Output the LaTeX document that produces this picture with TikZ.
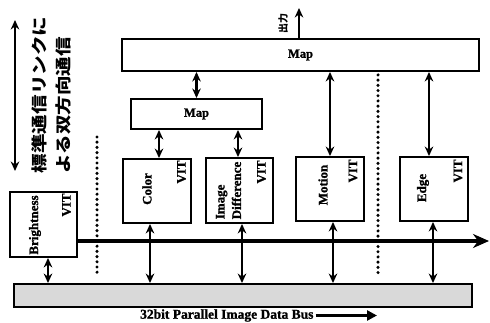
\documentclass[tikz,border=0pt]{standalone}
\usepackage{fontspec}
\setmainfont{Liberation Serif}[BoldFeatures={FakeBold=1.2}]
\newfontfamily\jpfont{Noto Sans CJK JP}
\usetikzlibrary{arrows.meta,calc}

\tikzset{
  box/.style={draw, line width=1.9pt, inner sep=0pt},
  lbl/.style={font=\fontsize{13}{16.5}\selectfont\bfseries, rotate=90, inner sep=0pt},
  link/.style={line width=2.3pt, {Stealth[length=9.5pt,width=8.5pt]}-{Stealth[length=9.5pt,width=8.5pt]}},
  sepline/.style={line width=3.4pt, line cap=round, dash pattern=on 0pt off 5.2pt},
}

\begin{document}
\begin{tikzpicture}[x=1pt,y=-1pt]
  \useasboundingbox (0,0) rectangle (490,323);

  % map units
  \node[box, minimum width=357pt, minimum height=32pt, font=\fontsize{12.5}{14}\selectfont\bfseries] (mapt) at (300.5,55) {Map};
  \node[box, minimum width=131pt, minimum height=30pt, font=\fontsize{12.5}{14}\selectfont\bfseries] (maps) at (196.5,114) {Map};

  % VIT boards
  \node[box, minimum width=67pt, minimum height=65pt] (bright) at (43.5,224.5) {};
  \node[box, minimum width=68pt, minimum height=64pt] (color) at (157,191) {};
  \node[box, minimum width=67pt, minimum height=65pt] (imgdiff) at (239.5,190.5) {};
  \node[box, minimum width=68pt, minimum height=64pt] (motion) at (330,189) {};
  \node[box, minimum width=68pt, minimum height=64pt] (edge) at (434,189) {};

  \node[lbl] at ($(bright.center)+(-8.5,0.5)$) {Brightness};
  \node[lbl] at ($(bright.center)+(23,-19.5)$) {VIT};
  \node[lbl] at ($(color.center)+(-10,-2)$) {Color};
  \node[lbl] at ($(color.center)+(24.5,-19)$) {VIT};
  \node[lbl, align=left] at ($(imgdiff.center)+(-11,0)$) {Image\\Difference};
  \node[lbl] at ($(imgdiff.center)+(22,-18.5)$) {VIT};
  \node[lbl] at ($(motion.center)+(-7,-4)$) {Motion};
  \node[lbl] at ($(motion.center)+(23,-18)$) {VIT};
  \node[lbl] at ($(edge.center)+(-11,-1)$) {Edge};
  \node[lbl] at ($(edge.center)+(24,-18)$) {VIT};

  % image data bus
  \node[box, minimum width=458pt, minimum height=23pt, fill=black!15] (bus) at (243,295.5) {};
  \node[font=\fontsize{13.5}{16}\selectfont\bfseries, anchor=west, inner sep=2pt] (cap) at (138,315.5) {32bit Parallel Image Data Bus};
  \coordinate (capend) at (377,315.5);
  \draw[line width=3pt, -{Triangle[length=10pt,width=10pt]}] (cap.east) -- (capend);

  % link bus
  \coordinate (busend) at (489,241);
  \draw[line width=4pt, -{Stealth[length=16pt,width=14pt]}] (bright.east |- busend) -- (busend);

  % output
  \coordinate (out) at (299,8);
  \draw[line width=2.3pt, -{Stealth[length=9.5pt,width=8.5pt]}] (out |- mapt.north) -- (out);
  \node[rotate=90, font=\jpfont\bfseries\fontsize{10}{11}\selectfont, inner sep=0pt] (outlbl) at (283,24) {出力};

  % map connections
  \draw[link] (maps.north) -- (maps.north |- mapt.south);
  \coordinate (ct) at ($(color.north)+(2,0)$);
  \draw[link] (ct) -- (ct |- maps.south);
  \coordinate (it) at ($(imgdiff.north)+(-1.5,0)$);
  \draw[link] (it) -- (it |- maps.south);
  \coordinate (mt) at (motion.north);
  \draw[link] (mt) -- (mt |- mapt.south);
  \coordinate (et) at ($(edge.north)+(-5,0)$);
  \draw[link] (et) -- (et |- mapt.south);

  % bus connections
  \coordinate (bb) at ($(bright.south)+(4.5,0)$);
  \draw[link] (bb) -- (bb |- bus.north);
  \coordinate (cb) at ($(color.south)+(-7,0)$);
  \draw[link] (cb) -- (cb |- bus.north);
  \coordinate (ib) at ($(imgdiff.south)+(2.5,0)$);
  \draw[link] (ib) -- (ib |- bus.north);
  \coordinate (mb) at ($(motion.south)+(3,0)$);
  \draw[link] (mb) -- (mb |- bus.north);
  \coordinate (eb) at ($(edge.south)+(-1,0)$);
  \draw[link] (eb) -- (eb |- bus.north);

  % separators
  \coordinate (sepa) at (97,137);
  \coordinate (sepb) at (97,276);
  \draw[sepline] (sepa) -- (sepb);
  \coordinate (sepc) at (378,277);
  \draw[sepline] ($(mapt.south -| sepc)+(0,3)$) -- (sepc);

  % standard link
  \coordinate (lkt) at (15,20);
  \coordinate (lkb) at (15,171);
  \draw[link] (lkt) -- (lkb);
  \node[rotate=90, align=left, font=\jpfont\bfseries\fontsize{16}{24}\selectfont, inner sep=0pt] (jp) at (51.5,95)
    {\scalebox{1.22}[1]{標準通信リンクに}\\\scalebox{1.22}[1]{よる双方向通信}};
\end{tikzpicture}
\end{document}
